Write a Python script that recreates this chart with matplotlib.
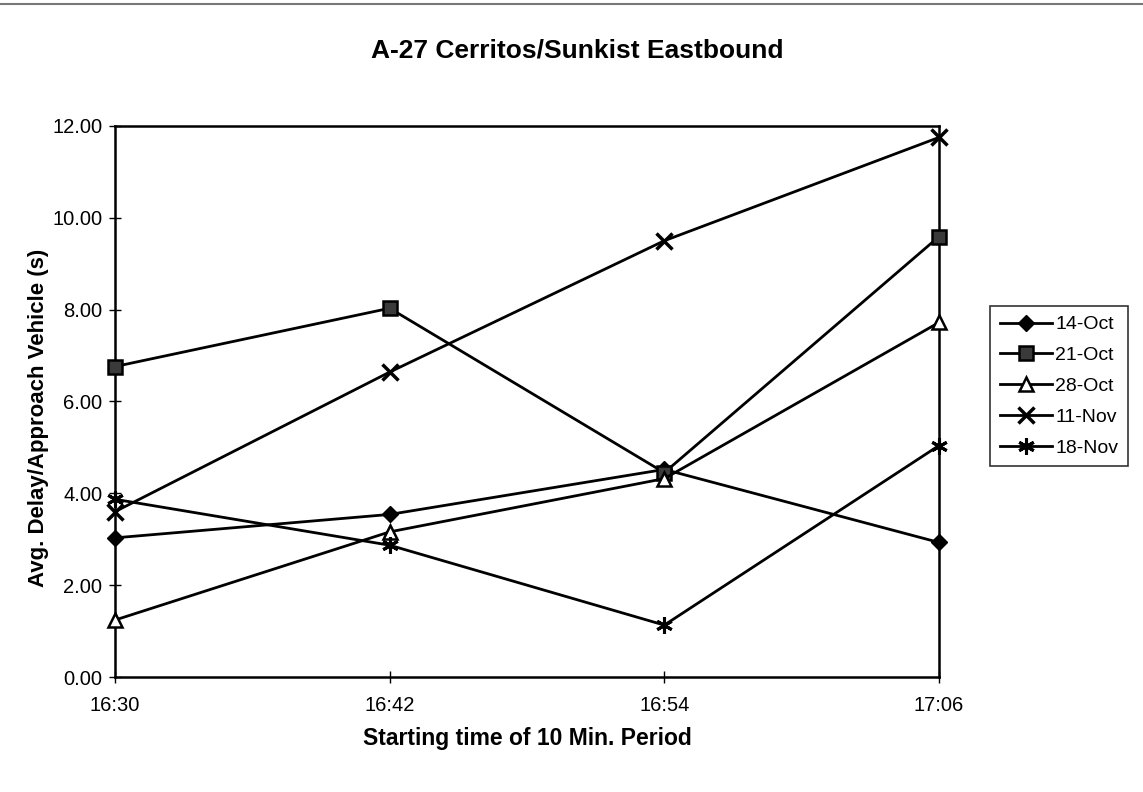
import matplotlib
matplotlib.use("Agg")
import matplotlib.pyplot as plt
from matplotlib.lines import Line2D

plt.rcParams['font.family'] = ['Liberation Sans', 'DejaVu Sans']

times = ["16:30", "16:42", "16:54", "17:06"]
oct14 = [3.03, 3.54, 4.52, 2.93]
oct21 = [6.76, 8.03, 4.45, 9.59]
oct28 = [1.24, 3.16, 4.32, 7.72]
nov11 = [3.60, 6.64, 9.50, 11.75]
nov18 = [3.87, 2.87, 1.13, 5.04]
series_labels = ["14-Oct", "21-Oct", "28-Oct", "11-Nov", "18-Nov"]

fig = plt.figure(figsize=(11.43, 7.92), dpi=100)
ax = fig.add_axes([0.1006, 0.1452, 0.7209, 0.6958])

x = list(range(len(times)))
lw = 2.0
ax.plot(x, oct14, color='black', lw=lw, marker='D', ms=8.5, mfc='black', mec='black',
        label=series_labels[0], clip_on=False, zorder=3)
ax.plot(x, oct21, color='black', lw=lw, marker='s', ms=10, mfc='#3a3a3a', mec='black',
        mew=1.8, label=series_labels[1], clip_on=False, zorder=3)
ax.plot(x, oct28, color='black', lw=lw, marker='^', ms=10.5, mfc='white', mec='black',
        mew=1.8, label=series_labels[2], clip_on=False, zorder=3)
ax.plot(x, nov11, color='black', lw=lw, marker='x', ms=11, mec='black', mew=2.5,
        label=series_labels[3], clip_on=False, zorder=3)
ax.plot(x, nov18, color='black', lw=lw, marker=(6, 2, 0), ms=12, mec='black', mew=2.2,
        label=series_labels[4], clip_on=False, zorder=3)

ax.set_xlim(0, 3)
ax.set_ylim(0, 12)
ax.set_xticks(x)
ax.set_xticklabels(times)
ax.set_yticks([0, 2, 4, 6, 8, 10, 12])
ax.set_yticklabels([f"{v:.2f}" for v in [0, 2, 4, 6, 8, 10, 12]])
ax.tick_params(axis='both', labelsize=14.5, direction='inout', length=8, width=1, colors='black')
ax.tick_params(axis='x', pad=10)
ax.tick_params(axis='y', pad=5)
for s in ax.spines.values():
    s.set_linewidth(1.8)
    s.set_color('black')

fig.text(0.505, 0.936, "A-27 Cerritos/Sunkist Eastbound", fontsize=19, fontweight='bold',
         ha='center', va='center')
ax.set_xlabel("Starting time of 10 Min. Period", fontsize=16.5, fontweight='bold', labelpad=8)
ax.set_ylabel("Avg. Delay/Approach Vehicle (s)", fontsize=16, fontweight='bold')
ax.yaxis.set_label_coords(-0.08, 0.47)

leg = fig.legend(loc='upper left', bbox_to_anchor=(990 / 1143, 1 - 306 / 792), fontsize=14,
                 frameon=True, fancybox=False, edgecolor='black', handlelength=2.7,
                 labelspacing=0.68, borderpad=0.5, handletextpad=0.15, borderaxespad=0)
leg.get_frame().set_linewidth(1.2)

fig.add_artist(Line2D([0, 1], [0.995, 0.995], transform=fig.transFigure, color='#777777', lw=1.5))

fig.savefig("out.png", dpi=100, facecolor='white')
